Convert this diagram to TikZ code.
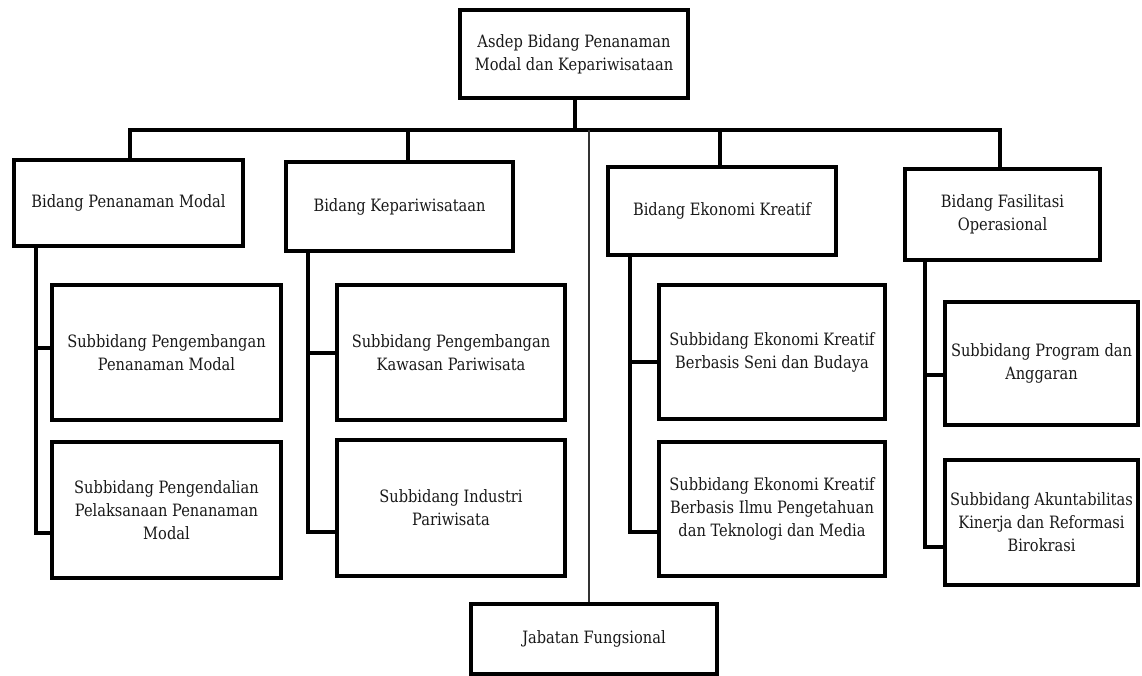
\documentclass[tikz,border=0pt]{standalone}
\usepackage{fontspec}
\setmainfont{DejaVu Serif}[FakeStretch=0.86]
\usetikzlibrary{calc}
\begin{document}
\begin{tikzpicture}[x=1pt,y=-1pt,
  box/.style={draw=black,line width=4pt,fill=white,align=center,inner sep=2pt,
    font=\fontsize{17}{23}\selectfont,text=black!90},
  conn/.style={draw=black,line width=3.5pt},
  thin/.style={draw=black!80,line width=2pt}]
\useasboundingbox (0,0) rectangle (1142,675);
% boxes: center, width, height
\node[box,minimum width=228pt,minimum height=88pt] (top) at (574,54) {Asdep Bidang Penanaman\\Modal dan Kepariwisataan};
\node[box,minimum width=229pt,minimum height=86pt] (b1) at (128.5,203) {Bidang Penanaman Modal};
\node[box,minimum width=227pt,minimum height=89pt] (b2) at (399.5,206.5) {Bidang Kepariwisataan};
\node[box,minimum width=228pt,minimum height=88pt] (b3) at (722,211) {Bidang Ekonomi Kreatif};
\node[box,minimum width=195pt,minimum height=91pt] (b4) at (1002.5,214.5) {Bidang Fasilitasi\\Operasional};
\node[box,minimum width=229pt,minimum height=135pt] (s11) at (166.5,352.5) {Subbidang Pengembangan\\Penanaman Modal};
\node[box,minimum width=229pt,minimum height=136pt] (s12) at (166.5,510) {Subbidang Pengendalian\\Pelaksanaan Penanaman\\Modal};
\node[box,minimum width=228pt,minimum height=135pt] (s21) at (451,352.5) {Subbidang Pengembangan\\Kawasan Pariwisata};
\node[box,minimum width=228pt,minimum height=136pt] (s22) at (451,508) {Subbidang Industri\\Pariwisata};
\node[box,minimum width=226pt,minimum height=134pt] (s31) at (772,352) {Subbidang Ekonomi Kreatif\\Berbasis Seni dan Budaya};
\node[box,minimum width=226pt,minimum height=134pt] (s32) at (772,509) {Subbidang Ekonomi Kreatif\\Berbasis Ilmu Pengetahuan\\dan Teknologi dan Media};
\node[box,minimum width=193pt,minimum height=123pt] (s41) at (1041.5,363.5) {Subbidang Program dan\\Anggaran};
\node[box,minimum width=193pt,minimum height=125pt] (s42) at (1041.5,522.5) {Subbidang Akuntabilitas\\Kinerja dan Reformasi\\Birokrasi};
\node[box,minimum width=246pt,minimum height=70pt] (jf) at (594,639) {Jabatan Fungsional};
% bar coordinates
\coordinate (t0) at (575,130);
\coordinate (k1) at (130,130);
\coordinate (k2) at (408,130);
\coordinate (k3) at (720,130);
\coordinate (k4) at (1000,130);
\coordinate (kj) at (589,130);
\coordinate (v1) at (36,0);
\coordinate (v2) at (308,0);
\coordinate (v3) at (630,0);
\coordinate (v4) at (925,0);
% connectors
\draw[conn] (top.south -| t0) -- (t0);
\draw[conn,line cap=rect] (k1) -- (k4);
\draw[conn] (k1) -- (k1 |- b1.north);
\draw[conn] (k2) -- (k2 |- b2.north);
\draw[conn] (k3) -- (k3 |- b3.north);
\draw[conn] (k4) -- (k4 |- b4.north);
\draw[thin] (kj) -- (kj |- jf.north);
% column 1
\coordinate (c11) at (36,348);
\coordinate (c12) at (36,533);
\draw[conn] (v1 |- b1.south) -- (c12) -- (c12 -| s12.west);
\draw[conn] (c11) -- (c11 -| s11.west);
% column 2
\coordinate (c21) at (308,353);
\coordinate (c22) at (308,532);
\draw[conn] (v2 |- b2.south) -- (c22) -- (c22 -| s22.west);
\draw[conn] (c21) -- (c21 -| s21.west);
% column 3
\coordinate (c31) at (630,362);
\coordinate (c32) at (630,532);
\draw[conn] (v3 |- b3.south) -- (c32) -- (c32 -| s32.west);
\draw[conn] (c31) -- (c31 -| s31.west);
% column 4
\coordinate (c41) at (925,375);
\coordinate (c42) at (925,547);
\draw[conn] (v4 |- b4.south) -- (c42) -- (c42 -| s42.west);
\draw[conn] (c41) -- (c41 -| s41.west);
\end{tikzpicture}
\end{document}
